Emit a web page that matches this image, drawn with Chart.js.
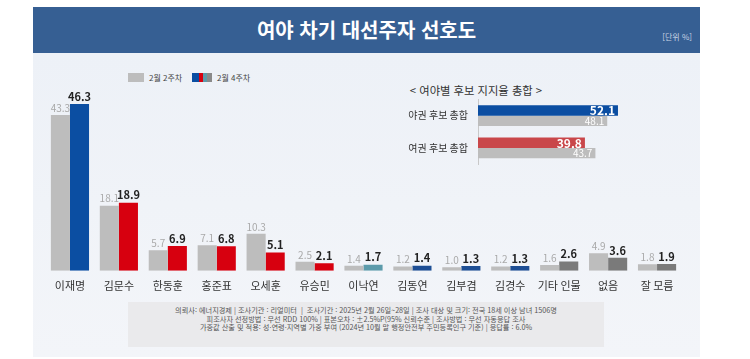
<!DOCTYPE html>
<html lang="ko">
<head>
<meta charset="UTF-8">
<title>여야 차기 대선주자 선호도</title>
<script src="https://cdn.jsdelivr.net/npm/chart.js@4.4.1/dist/chart.umd.min.js"></script>
<style>
  html, body { margin: 0; padding: 0; background: #fff; }
  body { width: 750px; height: 359px; position: relative; overflow: hidden;
         font-family: "Noto Sans CJK KR", "Noto Sans", sans-serif; }
  #panel { position: absolute; left: 33px; top: 53px; width: 667px; height: 304px;
           background: linear-gradient(#edf1f7, #f3f5f9); }
  #head { position: absolute; left: 33px; top: 7px; width: 667px; height: 46px; background: #365f93; }
  #head h1 { margin: 0; text-align: center; color: #fff; font-size: 20px; font-weight: 700; line-height: 46px; }
  #unit { position: absolute; right: 8px; top: 24px; font-size: 8px; color: #c9d4e4; }
  #main { position: absolute; left: 0; top: 0; }
  #inset { position: absolute; left: 395px; top: 80px; }
  #insetTitle { position: absolute; left: 391px; top: 82px; width: 170px; text-align: center;
                font-size: 11.3px; color: #333; }
  .legend { position: absolute; top: 72px; font-size: 8px; color: #444; display: flex; align-items: center; }
  .legend i { display: inline-block; width: 16px; height: 9px; margin-right: 5px; }
  #foot { position: absolute; left: 128px; top: 302px; width: 476px; height: 45px; background: #eaeaec;
          font-size: 7.2px; color: #555; text-align: center; line-height: 8.6px; padding-top: 4px; box-sizing: border-box;
          white-space: nowrap; }
</style>
</head>
<body>
<div id="panel"></div>
<div id="head"><h1>여야 차기 대선주자 선호도</h1><span id="unit">[단위 %]</span></div>
<div class="legend" style="left:128px"><i style="background:#bdbdbd"></i>2월 2주차</div>
<div class="legend" style="left:192px"><i style="width:20px;background:linear-gradient(to right,#0b4ea2 0 35%,#d7000f 35% 55%,#5c9bab 55% 75%,#8a8a8a 75%)"></i>2월 4주차</div>
<div id="insetTitle">&lt; 여야별 후보 지지율 총합 &gt;</div>
<canvas id="main" width="750" height="359"></canvas>
<canvas id="inset" width="260" height="100"></canvas>
<div id="foot">
  의뢰사: 에너지경제 | 조사기관 : 리얼미터 &nbsp;| &nbsp;조사기간 : 2025년 2월 26일~28일 | 조사 대상 및 크기: 전국 18세 이상 남녀 1506명<br>
  피조사자 선정방법 : 무선 RDD 100% | 표본오차 : ±2.5%P(95% 신뢰수준 | 조사방법 : 무선 자동응답 조사<br>
  가중값 산출 및 적용: 성·연령·지역별 가중 부여 (2024년 10월 말 행정안전부 주민등록인구 기준) | 응답률 : 6.0%
</div>

<script>
// 후보별 지지율
const candidates = ['이재명', '김문수', '한동훈', '홍준표', '오세훈', '유승민', '이낙연', '김동연', '김부겸', '김경수', '기타 인물', '없음', '잘 모름'];
const week2 = [43.3, 18.1, 5.7, 7.1, 10.3, 2.5, 1.4, 1.2, 1.0, 1.2, 1.6, 4.9, 1.8];
const week4 = [46.3, 18.9, 6.9, 6.8, 5.1, 2.1, 1.7, 1.4, 1.3, 1.3, 2.6, 3.6, 1.9];
const week4Colors = ['#0b4ea2', '#d7000f', '#d7000f', '#d7000f', '#d7000f', '#d7000f',
  '#5c9bab', '#1d4e94', '#1d4e94', '#1d4e94', '#7a7a7a', '#7a7a7a', '#7a7a7a'];

// 여야별 총합
const blocs = ['야권 후보 총합', '여권 후보 총합'];
const blocWeek4 = [52.1, 39.8];
const blocWeek2 = [48.1, 43.7];
const blocColors = ['#0b4ea2', '#c9474a'];

const FONT = '"Noto Sans CJK KR", "Noto Sans", sans-serif';

const topLabels = {
  id: 'topLabels',
  afterDatasetsDraw(chart) {
    const ctx = chart.ctx;
    ctx.save();
    ctx.textAlign = 'center';
    ctx.textBaseline = 'bottom';
    chart.data.datasets.forEach((ds, i) => {
      chart.getDatasetMeta(i).data.forEach((bar, j) => {
        if (i === 0) { ctx.fillStyle = '#a9a9a9'; ctx.font = '10px ' + FONT; }
        else { ctx.fillStyle = '#222'; ctx.font = 'bold 11px ' + FONT; }
        ctx.fillText(ds.data[j].toFixed(1), bar.x, bar.y - 2);
      });
    });
    ctx.restore();
  }
};

new Chart(document.getElementById('main'), {
  type: 'bar',
  data: {
    labels: candidates,
    datasets: [
      { label: '2월 2주차', data: week2, backgroundColor: '#bdbdbd' },
      { label: '2월 4주차', data: week4, backgroundColor: week4Colors }
    ]
  },
  options: {
    responsive: false,
    animation: false,
    categoryPercentage: 0.78,
    barPercentage: 1,
    layout: { padding: { left: 45.5, right: 68.5, top: 80, bottom: 59 } },
    plugins: { legend: { display: false }, tooltip: { enabled: false } },
    scales: {
      x: {
        grid: { display: false, drawTicks: false },
        border: { display: false },
        ticks: { color: '#333', font: { family: FONT, size: 11 }, padding: 8, autoSkip: false, maxRotation: 0 }
      },
      y: { display: false, min: 0, max: 53 }
    }
  },
  plugins: [topLabels]
});

const insideLabels = {
  id: 'insideLabels',
  afterDatasetsDraw(chart) {
    const ctx = chart.ctx;
    ctx.save();
    ctx.textAlign = 'right';
    ctx.textBaseline = 'middle';
    ctx.fillStyle = '#fff';
    chart.data.datasets.forEach((ds, i) => {
      chart.getDatasetMeta(i).data.forEach((bar, j) => {
        ctx.font = i === 0 ? 'bold 12px ' + FONT : '10px ' + FONT;
        ctx.fillText(ds.data[j].toFixed(1), bar.x - 3, bar.y + 0.5);
      });
    });
    ctx.restore();
  }
};

new Chart(document.getElementById('inset'), {
  type: 'bar',
  data: {
    labels: blocs,
    datasets: [
      { label: '2월 4주차', data: blocWeek4, backgroundColor: blocColors },
      { label: '2월 2주차', data: blocWeek2, backgroundColor: '#bdbdbd' }
    ]
  },
  options: {
    indexAxis: 'y',
    responsive: false,
    animation: false,
    categoryPercentage: 0.65,
    barPercentage: 1,
    layout: { padding: { left: 13, right: 15.8, top: 19.5, bottom: 6.5 } },
    plugins: { legend: { display: false }, tooltip: { enabled: false } },
    scales: {
      x: { display: false, min: 0, max: 60 },
      y: {
        grid: { display: false, drawTicks: false },
        border: { display: true, color: '#c8c8c8' },
        ticks: { color: '#333', font: { family: FONT, size: 10 }, padding: 10 },
        afterFit(scale) { scale.width = 70; }
      }
    }
  },
  plugins: [insideLabels]
});
</script>
</body>
</html>
